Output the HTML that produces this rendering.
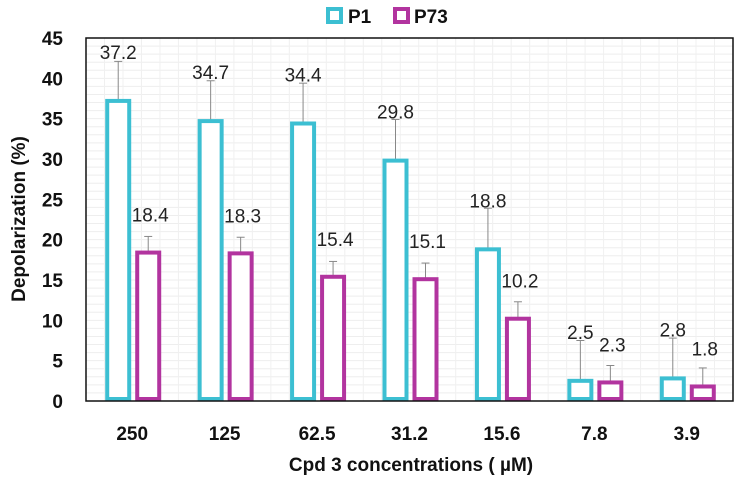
<!DOCTYPE html>
<html><head><meta charset="utf-8"><style>
body{margin:0;background:#fff;}
svg{display:block;font-family:"Liberation Sans",sans-serif;}
</style></head><body>
<svg id="chart" width="742" height="482">
<g id="grid"></g>
<g id="bars"></g>
<g id="labels"></g>
<g id="axes"></g>
<g>
 <g>
  <rect x="328" y="9" width="13" height="13" fill="#fff" stroke="#3cbfd2" stroke-width="4"/>
  <text x="348" y="23" font-size="19" font-weight="bold" fill="#111">P1</text>
 </g>
 <g>
  <rect x="395" y="9" width="13" height="13" fill="#fff" stroke="#b2349f" stroke-width="4"/>
  <text x="414" y="23" font-size="19" font-weight="bold" fill="#111">P73</text>
 </g>
</g>
<text x="0" y="0" transform="translate(25,219) rotate(-90)" text-anchor="middle" font-size="19" font-weight="bold" fill="#111">Depolarization (%)</text>
<text x="411" y="471" text-anchor="middle" font-size="19" font-weight="bold" fill="#111">Cpd 3 concentrations ( µM)</text>
</svg>
<script>
const categories = ["250","125","62.5","31.2","15.6","7.8","3.9"];
const p1Values = [37.2,34.7,34.4,29.8,18.8,2.5,2.8];
const p73Values = [18.4,18.3,15.4,15.1,10.2,2.3,1.8];
const p1Errors = [4.9,5.0,5.0,5.1,5.1,5.0,5.0];
const p73Errors = [2.0,2.0,1.9,2.0,2.1,2.1,2.3];
const yTicks = [0,5,10,15,20,25,30,35,40,45];

const NS="http://www.w3.org/2000/svg";
const L=86,R=733,T=38,B=401,YMAX=45;
const y=v=>B-(v/YMAX)*(B-T);
const gw=(R-L)/categories.length;
const xc=i=>L+gw*(i+0.5);
function mk(tag,attrs,parent){const e=document.createElementNS(NS,tag);for(const k in attrs)e.setAttribute(k,attrs[k]);parent.appendChild(e);return e;}
const grid=document.getElementById('grid'),bars=document.getElementById('bars'),axes=document.getElementById('axes'),labels=document.getElementById('labels');
for(let v=0;v<=YMAX;v+=1){const ln=mk('line',{x1:L,x2:R,y1:y(v),y2:y(v),stroke:'#eeeeee','stroke-width':1},grid);

}
for(let x=L;x<=R;x+=gw/5){const ln=mk('line',{x1:x,x2:x,y1:T,y2:B,stroke:'#f0f0f0','stroke-width':1},grid);

}
const fr=mk('rect',{x:L,y:T,width:R-L,height:B-T,fill:'none',stroke:'#111','stroke-width':1.5},axes);


yTicks.forEach(v=>{const t=mk('text',{x:63,y:y(v)+7,'text-anchor':'end','font-size':19,'font-weight':'bold',fill:'#111'},axes);t.textContent=v;

});
categories.forEach((c,i)=>{const t=mk('text',{x:xc(i),y:440,'text-anchor':'middle','font-size':19,'font-weight':'bold',fill:'#111'},axes);t.textContent=c;

});
function series(vals,errs,off,color,name,labOff,labDx){
 vals.forEach((v,i)=>{
  const x0=xc(i)+off;
  const err=mk('line',{x1:x0+11,x2:x0+11,y1:y(v),y2:y(v+errs[i]),stroke:'#888','stroke-width':1},bars);
  
  
  const cap=mk('line',{x1:x0+7,x2:x0+15,y1:y(v+errs[i]),y2:y(v+errs[i]),stroke:'#888','stroke-width':1},bars);
  
  
  const r=mk('rect',{x:x0,y:y(v),width:22,height:B-y(v)-2,fill:'#fff',stroke:color,'stroke-width':4},bars);
  
  
  const t=mk('text',{x:x0+11+labDx,y:y(v)-labOff,'text-anchor':'middle','font-size':19,fill:'#222'},labels);
  t.textContent=v.toFixed(1);
  
  
 });
}
series(p1Values,p1Errors,-25,'#3cbfd2','p1',42,0);
series(p73Values,p73Errors,5,'#b2349f','p73',31,2);
</script>
</body></html>
